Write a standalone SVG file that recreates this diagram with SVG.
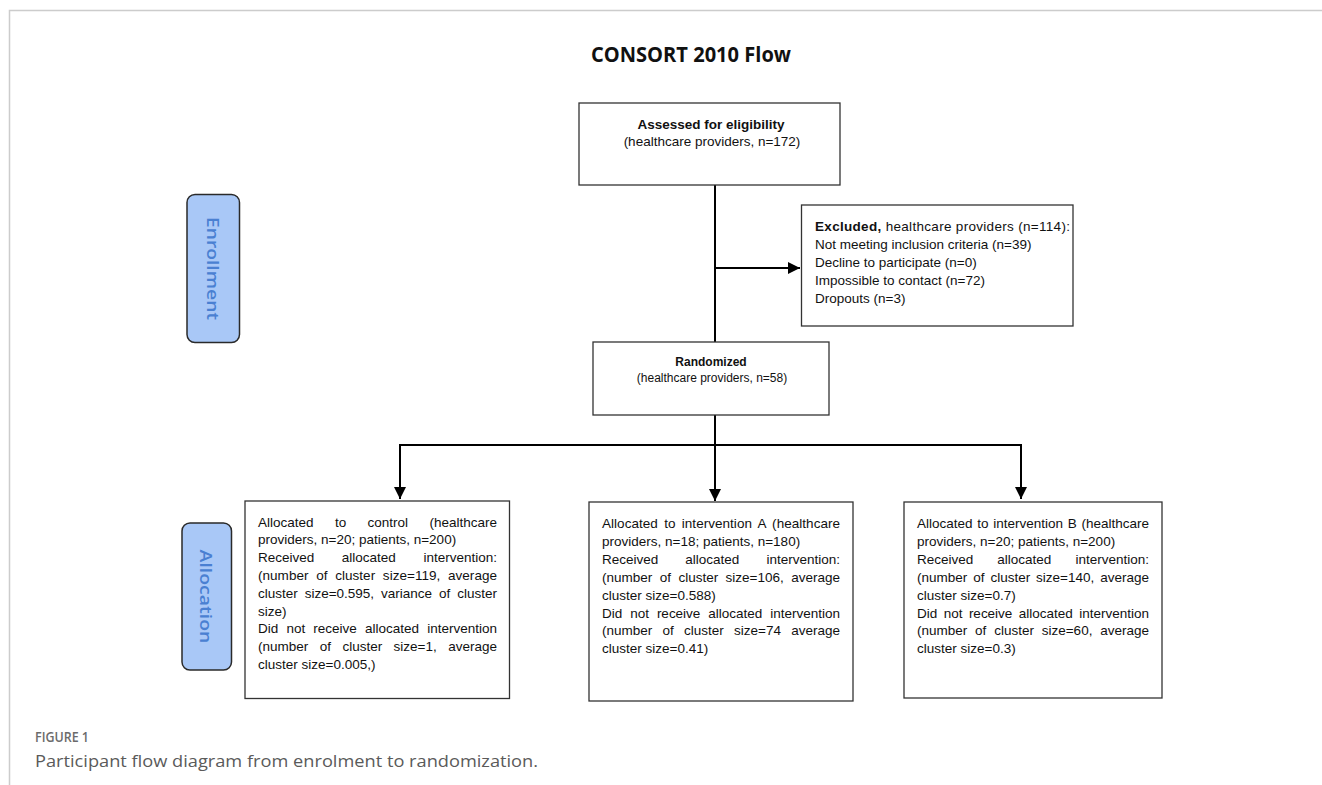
<svg xmlns="http://www.w3.org/2000/svg" width="1322" height="785" viewBox="0 0 1322 785">
<defs>
<marker id="ah" viewBox="0 0 10 10" refX="10" refY="5" markerWidth="6" markerHeight="6" orient="auto" markerUnits="strokeWidth">
<path d="M0,0 L10,5 L0,10 z" fill="#000"/>
</marker>
<style>
.box{fill:#fff;stroke:#333;stroke-width:1.3}
.lbl{fill:#a9c8f7;stroke:#2a2a2a;stroke-width:1.5}
.lt{font-family:"Open Sans","Noto Sans",sans-serif;font-size:17px;font-weight:600;fill:#4a80d2;text-anchor:middle;dominant-baseline:central}
.t{font-family:"Liberation Sans",Arial,sans-serif;font-size:13.5px;fill:#111}
.tc{font-family:"Liberation Sans",Arial,sans-serif;font-size:13.5px;fill:#111;text-anchor:middle}
.ts{font-family:"Liberation Sans",Arial,sans-serif;font-size:12px;fill:#111;text-anchor:middle}
.b{font-weight:bold}
.conn{stroke:#000;stroke-width:2;fill:none}
.frame{stroke:#cccccc;stroke-width:1.5;fill:none}
</style>
</defs>
<g id="frame">
<path class="frame" d="M9.5,785 L9.5,10.5 L1322,10.5"/>
</g>
<g id="title">
<text x="691" y="62" text-anchor="middle" font-family="'Open Sans','Noto Sans',sans-serif" font-weight="bold" font-size="20.5" textLength="200" lengthAdjust="spacingAndGlyphs" fill="#111">CONSORT 2010 Flow</text>
</g>
<g id="enrollment">
<rect class="lbl" x="187" y="194.5" width="52.5" height="148" rx="8"/>
<text class="lt" transform="translate(213.5,268.5) rotate(90)" x="0" y="0" textLength="103" lengthAdjust="spacingAndGlyphs">Enrollment</text>
</g>
<g id="allocation">
<rect class="lbl" x="182" y="523" width="49.5" height="147" rx="8"/>
<text class="lt" transform="translate(206.5,596.5) rotate(90)" x="0" y="0" textLength="94" lengthAdjust="spacingAndGlyphs">Allocation</text>
</g>
<g id="connectors">
<path class="conn" d="M715,185 L715,342"/>
<path class="conn" d="M715,268 L800,268" marker-end="url(#ah)"/>
<path class="conn" d="M715,415 L715,501" marker-end="url(#ah)"/>
<path class="conn" d="M400,499 L400,445 L1021,445 L1021,499"/>
<path class="conn" d="M400,480 L400,499" marker-end="url(#ah)"/>
<path class="conn" d="M1021,480 L1021,499" marker-end="url(#ah)"/>
</g>
<g id="assessed">
<rect class="box" x="579" y="103" width="261" height="82"/>
<text class="tc b" x="711" y="129">Assessed for eligibility</text>
<text class="tc" x="712" y="146">(healthcare providers, n=172)</text>
</g>
<g id="excluded">
<rect class="box" x="801.5" y="205" width="271.5" height="121"/>
<text class="t" x="815" y="231" textLength="255" lengthAdjust="spacing"><tspan class="b">Excluded,</tspan> healthcare providers (n=114):</text>
<text class="t" x="815" y="249">Not meeting inclusion criteria (n=39)</text>
<text class="t" x="815" y="267">Decline to participate (n=0)</text>
<text class="t" x="815" y="285">Impossible to contact (n=72)</text>
<text class="t" x="815" y="303">Dropouts (n=3)</text>
</g>
<g id="randomized">
<rect class="box" x="593" y="342" width="236" height="73"/>
<text class="ts b" x="711" y="366">Randomized</text>
<text class="ts" x="712" y="382">(healthcare providers, n=58)</text>
</g>
<g id="control">
<rect class="box" x="245" y="501" width="264.5" height="197.5"/>
<text class="t" x="258" y="526.5" word-spacing="17.7" textLength="239" lengthAdjust="spacing">Allocated to control (healthcare</text>
<text class="t" x="258" y="544.3">providers, n=20; patients, n=200)</text>
<text class="t" x="258" y="562.1" word-spacing="23.8" textLength="239" lengthAdjust="spacing">Received allocated intervention:</text>
<text class="t" x="258" y="579.9" word-spacing="3.9" textLength="239" lengthAdjust="spacing">(number of cluster size=119, average</text>
<text class="t" x="258" y="597.7" word-spacing="3.3" textLength="239" lengthAdjust="spacing">cluster size=0.595, variance of cluster</text>
<text class="t" x="258" y="615.5">size)</text>
<text class="t" x="258" y="633.3" word-spacing="4.4" textLength="239" lengthAdjust="spacing">Did not receive allocated intervention</text>
<text class="t" x="258" y="651.1" word-spacing="7.7" textLength="239" lengthAdjust="spacing">(number of cluster size=1, average</text>
<text class="t" x="258" y="668.9">cluster size=0.005,)</text>
</g>
<g id="interventionA">
<rect class="box" x="589" y="502" width="264" height="199"/>
<text class="t" x="602" y="528" word-spacing="2.5" textLength="238" lengthAdjust="spacing">Allocated to intervention A (healthcare</text>
<text class="t" x="602" y="545.9">providers, n=18; patients, n=180)</text>
<text class="t" x="602" y="563.8" word-spacing="23.3" textLength="238" lengthAdjust="spacing">Received allocated intervention:</text>
<text class="t" x="602" y="581.7" word-spacing="3.7" textLength="238" lengthAdjust="spacing">(number of cluster size=106, average</text>
<text class="t" x="602" y="599.6">cluster size=0.588)</text>
<text class="t" x="602" y="617.5" word-spacing="4.2" textLength="238" lengthAdjust="spacing">Did not receive allocated intervention</text>
<text class="t" x="602" y="635.4" word-spacing="6.5" textLength="238" lengthAdjust="spacing">(number of cluster size=74 average</text>
<text class="t" x="602" y="653.3">cluster size=0.41)</text>
</g>
<g id="interventionB">
<rect class="box" x="904" y="502" width="258" height="196"/>
<text class="t" x="917" y="528" word-spacing="1" textLength="232" lengthAdjust="spacing">Allocated to intervention B (healthcare</text>
<text class="t" x="917" y="545.9">providers, n=20; patients, n=200)</text>
<text class="t" x="917" y="563.8" word-spacing="20.3" textLength="232" lengthAdjust="spacing">Received allocated intervention:</text>
<text class="t" x="917" y="581.7" word-spacing="2.2" textLength="232" lengthAdjust="spacing">(number of cluster size=140, average</text>
<text class="t" x="917" y="599.6">cluster size=0.7)</text>
<text class="t" x="917" y="617.5" word-spacing="2.7" textLength="232" lengthAdjust="spacing">Did not receive allocated intervention</text>
<text class="t" x="917" y="635.4" word-spacing="4.1" textLength="232" lengthAdjust="spacing">(number of cluster size=60, average</text>
<text class="t" x="917" y="653.3">cluster size=0.3)</text>
</g>
<g id="caption">
<text x="35" y="742" font-family="'Open Sans','Noto Sans',sans-serif" font-size="15" font-weight="600" fill="#6b6b6b" textLength="54" lengthAdjust="spacingAndGlyphs">FIGURE 1</text>
<text x="35" y="767" font-family="'Open Sans','Noto Sans',sans-serif" font-size="17" fill="#5a5a5a" textLength="503" lengthAdjust="spacingAndGlyphs">Participant flow diagram from enrolment to randomization.</text>
</g>
</svg>
